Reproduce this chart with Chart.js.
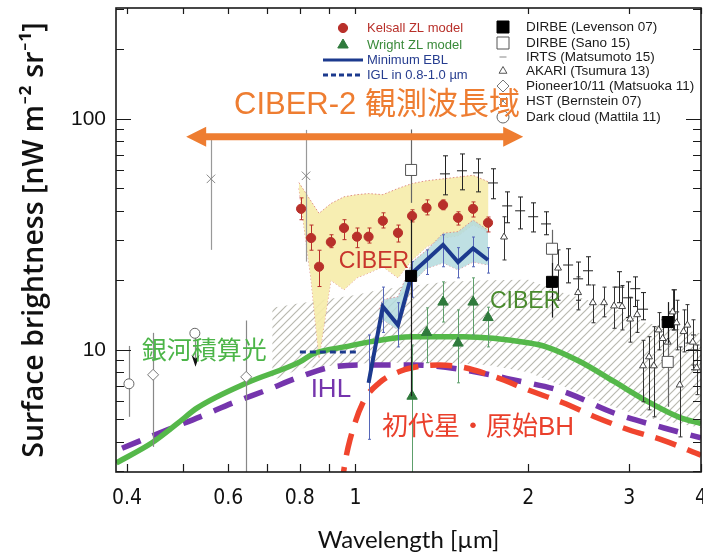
<!DOCTYPE html>
<html><head><meta charset="utf-8"><title>CIBER EBL</title>
<script src="https://cdn.jsdelivr.net/npm/chart.js@4.4.1/dist/chart.umd.min.js"></script>
<style>html,body{margin:0;padding:0;background:#fff;overflow:hidden}</style>
</head><body>
<canvas id="c" width="703" height="558"></canvas>
<script>
// ---------- axis ticks ----------
const xTickValues = [0.4,0.5,0.6,0.7,0.8,0.9,1,2,3,4];
const xTickLabels = [0.4,0.6,0.8,1,2,3,4];
const yTickValues = [3,4,5,6,7,8,9,10,20,30,40,50,60,70,80,90,100,200,300];
const yTickLabels = [10,100];

// ---------- model curves ----------
const galaxyX = [0.383,0.442,0.491,0.530,0.647,0.80,0.843,0.978,1.03,1.26,1.54,2.01,2.15,2.46,2.82,3.22,3.67,4.0];
const galaxyY = [3.24,3.96,4.83,5.61,7.2,8.87,9.6,10.4,10.7,11.4,11.4,10.7,10.3,8.9,7.3,6.0,5.1,4.8];
const ihlX = [0.392,0.469,0.536,0.612,0.701,0.80,0.914,1.073,1.259,1.539,1.888,2.31,2.82,3.45,4.0];
const ihlY = [3.75,4.5,5.13,5.9,6.7,7.64,8.44,8.6,8.6,8.2,7.41,6.58,5.33,4.59,4.16];
const popX = [0.945,0.958,0.978,1.03,1.10,1.20,1.30,1.40,1.54,1.76,2.0,2.3,2.63,3.0,3.43,4.0];
const popY = [2.5,3.2,4.07,5.9,7.2,8.1,8.5,8.6,8.4,7.6,6.7,5.9,5.1,4.5,4.07,3.5];
const iglX = [0.80,1.01];
const iglY = [9.8,9.8];

// ---------- CIBER minimum EBL ----------
const eblX  = [1.054,1.116,1.186,1.255,1.33,1.421,1.509,1.603,1.702];
const eblY  = [7.2,15.4,12.8,21.5,24.5,28.5,24.0,27.5,24.5];
const eblHi = [11.6,18.7,16.0,24.1,27.1,31.5,27.7,30.8,27.7];
const eblLo = [4.1,11.9,10.3,16.9,21.2,22.9,20.5,22.9,21.5];
const eblBandX  = [1.10,1.116,1.186,1.255,1.33,1.421,1.509,1.603,1.702];
const eblBandHi = [15,16.5,17,24,27,32,32.5,36.5,33];
const eblBandLo = [13.5,13.5,12.2,19.5,22.5,23.8,22.2,24.0,23.3];

// ---------- CIBER with Kelsall ZL ----------
const kelsallX  = [0.804,0.837,0.864,0.906,0.955,1.006,1.054,1.116,1.186,1.255,1.33,1.421,1.509,1.603,1.702];
const kelsallY  = [40.8,30.5,22.9,29.3,33.7,30.9,30.9,36.2,32.1,38.0,41.2,42.4,37.3,40.8,35.5];
const kelsallHi = [45.5,34.7,27.0,31.5,36.6,33.7,33.7,39.2,34.7,40.4,44.6,44.6,39.6,43.7,37.6];
const kelsallLo = [36.6,27.0,18.8,27.7,30.0,27.7,29.0,33.7,29.3,35.8,38.4,40.4,34.7,37.6,32.4];
const kelsallBandX  = [0.797,0.837,0.864,0.906,0.955,1.006,1.054,1.116,1.186,1.255,1.33,1.421,1.509,1.603,1.705];
const kelsallBandHi = [53,44,39,43,46,47,47.5,47,50,52.5,54,55,56,57,53.4];
const kelsallBandLo = [50,20,9.2,20,18.2,20.5,21.5,22.9,20.5,24.5,27.9,30.5,31.2,34.8,32.4];

// ---------- CIBER with Wright ZL ----------
const wrightX  = [1.255,1.33,1.421,1.509,1.603,1.702];
const wrightY  = [6.3,11.9,16.1,10.7,16.1,13.8];
const wrightHi = [10.5,15.2,19.7,14.9,20.5,15.3];
const wrightLo = [2.5,8.8,13.2,7.2,11.6,10.3];

// ---------- hatched region ----------
const hatchX  = [0.716,0.74,0.80,1.0,1.10,1.44,1.7,2.0,2.29,2.8,3.2,4.0];
const hatchHi = [15.2,15.4,15.9,17.3,18.2,19.7,20.0,20.1,17.7,15.3,13.1,11.8];
const hatchLo = [7.4,7.6,8.3,8.7,8.8,8.8,8.6,8.0,7.0,5.7,5.1,4.6];

// ---------- other measurements ----------
const levX  = [1.25,2.2,3.5];
const levY  = [20.9,19.7,13.2];
const levHi = [36.6,23.8,16.1];
const levLo = [6.3,13.8,10.7];
const sanoX  = [1.25,2.2,3.5];
const sanoY  = [60.1,27.4,8.87];
const sanoHi = [90,33.1,12.2];
const sanoLo = [43.3,20.7,5.67];
const irtsX  = [1.432,1.533,1.635,1.736,1.838,1.936,2.04,2.148,2.347,2.443,2.542,2.881,2.986,3.073,3.17,3.592,3.87];
const irtsY  = [57.8,59.6,58.4,52.8,42.0,40.0,37.7,35.1,23.3,20.3,22.0,18.7,16.8,18.4,15.0,14.6,10.0];
const irtsHi = [69.2,70.5,67.1,60.8,48.3,45.9,43.3,39.6,27.4,24.0,25.3,21.8,19.7,20.7,17.7,18.2,11.6];
const irtsLo = [46.9,49.3,48.3,45.1,35.5,33.4,32.4,31.5,19.5,16.4,19.1,16.0,13.8,15.4,13.5,12.2,8.2];
const akariX  = [1.815,2.254,2.443,2.592,2.711,2.822,2.914,3.01,3.096,3.17,3.247,3.31,3.376,3.43,3.50,3.57,3.626,3.673,3.729,3.787,3.87,3.93];
const akariY  = [30.8,22.6,17.7,16.0,16.0,15.5,15.4,13.6,14.2,8.53,9.33,8.53,12.2,11.2,10.8,14.6,13.1,7.05,12.0,12.8,10.8,8.36];
const akariHi = [37.7,27.1,20.7,19.1,18.7,18.7,19.0,16.9,16.4,11.0,11.4,12.6,14.5,13.5,12.8,18.2,16.4,10.3,14.9,15.7,13.5,10.5];
const akariLo = [24.5,16.4,14.9,13.1,13.9,12.4,12.2,10.8,11.9,5.96,5.5,5.13,10.0,9.0,8.6,12.2,10.0,4.2,9.8,10.7,8.6,6.4];
const pioneerX  = [0.444,0.645];
const pioneerY  = [7.8,7.64];
const pioneerHi = [11.85,13.4];
const pioneerLo = [3.8,2.5];
const hstX  = [0.56,0.82];
const hstY  = [55,56.7];
const hstHi = [81,89.6];
const hstLo = [27.1,24.1];
const darkX  = [0.403,0.525];
const darkY  = [7.13,11.8];
const darkHi = [10.4,11.8];
const darkLo = [5.13,8.8];
const darkUpperLimit = [false,true];

// ---------- annotations ----------
const ciber2Range = [0.507,1.96];
const ciber2Level = 83.6;

const P = (xs, ys) => xs.map((x, i) => ({x: x, y: ys[i]}));

const canvas = document.getElementById('c');
const ctx0 = canvas.getContext('2d');
function makeHatch() {
  const s = 8, c = document.createElement('canvas');
  c.width = s; c.height = s;
  const g = c.getContext('2d');
  g.strokeStyle = '#b9b9b0'; g.lineWidth = 1.2;
  g.beginPath();
  g.moveTo(0, s); g.lineTo(s, 0);
  g.moveTo(-2, 2); g.lineTo(2, -2);
  g.moveTo(s - 2, s + 2); g.lineTo(s + 2, s - 2);
  g.stroke();
  return ctx0.createPattern(c, 'repeat');
}
const hatch = makeHatch();

const lineBase = {showLine: true, pointRadius: 0, fill: false};
const markBase = {showLine: false, pointBorderWidth: 1};

const datasets = [
  Object.assign({label: 'DIRBE (Levenson 07)', data: P(levX, levY), order: 0, pointStyle: 'rect', pointRadius: 7.8,
    pointBackgroundColor: '#000', pointBorderColor: '#000', err: {lo: levLo, hi: levHi, color: '#1a1a1a', width: 1.2, cap: 0}}, markBase),
  Object.assign({label: 'DIRBE (Sano 15)', data: P(sanoX, sanoY), order: 0, pointStyle: 'rect', pointRadius: 7.8,
    pointBackgroundColor: '#fff', pointBorderColor: '#555', err: {lo: sanoLo, hi: sanoHi, color: '#666', width: 1.2, cap: 0}}, markBase),
  Object.assign({label: 'Kelsall ZL model', data: P(kelsallX, kelsallY), order: 0, pointStyle: 'circle', pointRadius: 4.6,
    pointBackgroundColor: '#b8302a', pointBorderColor: '#b8302a', err: {lo: kelsallLo, hi: kelsallHi, color: '#b8302a', width: 1, cap: 2}}, markBase),
  Object.assign({label: 'Wright ZL model', data: P(wrightX, wrightY), order: 0, pointStyle: 'triangle', pointRadius: 6,
    pointBackgroundColor: '#2f7a3c', pointBorderColor: '#2f7a3c', err: {lo: wrightLo, hi: wrightHi, color: '#5d9f6b', width: 1, cap: 1.5}}, markBase),
  Object.assign({label: 'AKARI (Tsumura 13)', data: P(akariX, akariY), order: 1, pointStyle: 'triangle', pointRadius: 4,
    pointBackgroundColor: '#fff', pointBorderColor: '#444', err: {lo: akariLo, hi: akariHi, color: '#333', width: 1, cap: 2}}, markBase),
  Object.assign({label: 'IRTS (Matsumoto 15)', data: P(irtsX, irtsY), order: 1, pointStyle: 'line', pointRadius: 5,
    pointBackgroundColor: '#222', pointBorderColor: '#222', err: {lo: irtsLo, hi: irtsHi, color: '#222', width: 1, cap: 2.5}}, markBase),
  Object.assign({label: 'Pioneer10/11 (Matsuoka 11)', data: P(pioneerX, pioneerY), order: 1, pointStyle: 'rectRot', pointRadius: 5.5,
    pointBackgroundColor: '#fff', pointBorderColor: '#777', err: {lo: pioneerLo, hi: pioneerHi, color: '#888', width: 1.2, cap: 0}}, markBase),
  Object.assign({label: 'HST (Bernstein 07)', data: P(hstX, hstY), order: 1, pointStyle: 'crossRot', pointRadius: 6,
    pointBackgroundColor: '#888', pointBorderColor: '#888', err: {lo: hstLo, hi: hstHi, color: '#999', width: 1.2, cap: 0}}, markBase),
  Object.assign({label: 'Dark cloud (Mattila 11)', data: P(darkX, darkY), order: 1, pointStyle: 'circle', pointRadius: 5,
    pointBackgroundColor: '#fff', pointBorderColor: '#666', err: {lo: darkLo, hi: darkHi, color: '#888', width: 1.2, cap: 0, arrow: darkUpperLimit}}, markBase),
  Object.assign({label: 'Minimum EBL', data: P(eblX, eblY), order: 2, borderColor: '#1c3a8e', borderWidth: 4,
    err: {lo: eblLo, hi: eblHi, color: '#5566b8', width: 1, cap: 1.5}}, lineBase),
  Object.assign({label: 'IGL in 0.8-1.0 µm', data: P(iglX, iglY), order: 2, borderColor: '#1c3a8e', borderWidth: 3, borderDash: [6, 4]}, lineBase),
  Object.assign({label: '銀河積算光', data: P(galaxyX, galaxyY), order: 3, borderColor: '#55b84a', borderWidth: 5.5, cubicInterpolationMode: 'monotone'}, lineBase),
  Object.assign({label: '初代星・原始BH', data: P(popX, popY), order: 4, borderColor: '#f0452e', borderWidth: 5.5, borderDash: [22, 12], cubicInterpolationMode: 'monotone'}, lineBase),
  Object.assign({label: 'IHL', data: P(ihlX, ihlY), order: 5, borderColor: '#7535ad', borderWidth: 5.5, borderDash: [20, 13], cubicInterpolationMode: 'monotone'}, lineBase),
  Object.assign({label: 'EBL band hi', data: P(eblBandX, eblBandHi), order: 6, borderColor: 'rgba(215,110,120,0.7)', borderWidth: 1, borderDash: [1.5, 2],
    fill: '+1', backgroundColor: 'rgba(180,218,222,0.85)'}, {showLine: true, pointRadius: 0}),
  Object.assign({label: 'EBL band lo', data: P(eblBandX, eblBandLo), order: 6, borderColor: 'rgba(215,110,120,0.7)', borderWidth: 1, borderDash: [1.5, 2]}, lineBase),
  Object.assign({label: 'Kelsall band hi', data: P(kelsallBandX, kelsallBandHi), order: 7, borderColor: 'rgba(215,110,110,0.75)', borderWidth: 1, borderDash: [1.5, 2],
    fill: '+1', backgroundColor: 'rgba(246,236,170,0.9)'}, {showLine: true, pointRadius: 0}),
  Object.assign({label: 'Kelsall band lo', data: P(kelsallBandX, kelsallBandLo), order: 7, borderColor: 'rgba(215,110,110,0.75)', borderWidth: 1, borderDash: [1.5, 2]}, lineBase),
  Object.assign({label: 'hatch hi', data: P(hatchX, hatchHi), order: 8, borderWidth: 0, borderColor: 'rgba(0,0,0,0)',
    fill: '+1', backgroundColor: hatch}, {showLine: true, pointRadius: 0}),
  Object.assign({label: 'hatch lo', data: P(hatchX, hatchLo), order: 8, borderWidth: 0, borderColor: 'rgba(0,0,0,0)'}, lineBase)
];

const errorBars = {
  id: 'errorBars',
  beforeDatasetDraw(chart, args) {
    const ds = chart.data.datasets[args.index];
    if (!ds.err) return;
    const e = ds.err, xs = chart.scales.x, ys = chart.scales.y, a = chart.chartArea, ctx = chart.ctx;
    ctx.save();
    ctx.beginPath(); ctx.rect(a.left, a.top, a.right - a.left, a.bottom - a.top); ctx.clip();
    ctx.strokeStyle = e.color; ctx.lineWidth = e.width;
    ds.data.forEach((p, i) => {
      const px = Math.round(xs.getPixelForValue(p.x)) + 0.5;
      const yl = ys.getPixelForValue(e.lo[i]), yh = ys.getPixelForValue(e.hi[i]);
      ctx.beginPath(); ctx.moveTo(px, yl); ctx.lineTo(px, yh);
      if (e.cap) { ctx.moveTo(px - e.cap, yl); ctx.lineTo(px + e.cap, yl); ctx.moveTo(px - e.cap, yh); ctx.lineTo(px + e.cap, yh); }
      ctx.stroke();
      if (e.arrow && e.arrow[i]) {
        ctx.fillStyle = '#111';
        ctx.beginPath(); ctx.moveTo(px, yl + 4); ctx.lineTo(px - 4, yl - 8); ctx.lineTo(px, yl - 4); ctx.lineTo(px + 4, yl - 8); ctx.closePath(); ctx.fill();
      }
    });
    ctx.restore();
  }
};

function marker(ctx, style, x, y, r, fill, stroke) {
  ctx.save(); ctx.fillStyle = fill; ctx.strokeStyle = stroke; ctx.lineWidth = 1;
  ctx.beginPath();
  if (style === 'circle') { ctx.arc(x, y, r, 0, Math.PI * 2); ctx.fill(); ctx.stroke(); }
  else if (style === 'rect') { ctx.rect(x - r, y - r, 2 * r, 2 * r); ctx.fill(); ctx.stroke(); }
  else if (style === 'tri') { ctx.moveTo(x, y - r); ctx.lineTo(x + r * 0.87, y + r * 0.5); ctx.lineTo(x - r * 0.87, y + r * 0.5); ctx.closePath(); ctx.fill(); ctx.stroke(); }
  else if (style === 'diamond') { ctx.moveTo(x, y - r); ctx.lineTo(x + r, y); ctx.lineTo(x, y + r); ctx.lineTo(x - r, y); ctx.closePath(); ctx.fill(); ctx.stroke(); }
  else if (style === 'dash') { ctx.moveTo(x - r, y); ctx.lineTo(x + r, y); ctx.stroke(); }
  else if (style === 'x') { ctx.moveTo(x - r, y - r); ctx.lineTo(x + r, y + r); ctx.moveTo(x - r, y + r); ctx.lineTo(x + r, y - r); ctx.stroke(); }
  ctx.restore();
}

const decorations = {
  id: 'decorations',
  afterDatasetsDraw(chart) {
    const {ctx, scales: {x, y}} = chart;
    ctx.save();
    const x1 = x.getPixelForValue(ciber2Range[0]), x2 = x.getPixelForValue(ciber2Range[1]), py = y.getPixelForValue(ciber2Level);
    const head = 20, hh = 10, sw = 3.5;
    ctx.fillStyle = '#ee7d31';
    ctx.beginPath();
    ctx.moveTo(x1, py); ctx.lineTo(x1 + head, py - hh); ctx.lineTo(x1 + head, py - sw); ctx.lineTo(x2 - head, py - sw);
    ctx.lineTo(x2 - head, py - hh); ctx.lineTo(x2, py); ctx.lineTo(x2 - head, py + hh); ctx.lineTo(x2 - head, py + sw);
    ctx.lineTo(x1 + head, py + sw); ctx.lineTo(x1 + head, py + hh); ctx.closePath(); ctx.fill();
    const label = (t, xv, yv, font, color) => {
      ctx.font = font; ctx.fillStyle = color; ctx.textAlign = 'center'; ctx.textBaseline = 'middle';
      ctx.fillText(t, x.getPixelForValue(xv), y.getPixelForValue(yv));
    };
    const J = '"Liberation Sans", "Noto Sans CJK JP", sans-serif';
    label('銀河積算光', 0.545, 9.8, '25px ' + J, '#4cb548');
    label('IHL', 0.906, 6.72, '26px ' + J, '#7535ad');
    label('初代星・原始BH', 1.635, 4.6, '26px ' + J, '#ea402c');
    label('CIBER', 1.077, 24.2, '23px ' + J, '#c8352c');
    label('CIBER', 1.975, 16.1, '23px ' + J, '#4a8a2e');
    ctx.restore();
  },
  afterDraw(chart) {
    const {ctx, chartArea: a, scales: {x, y}} = chart;
    ctx.save();
    ctx.strokeStyle = '#1a1a1a'; ctx.lineWidth = 1.6;
    ctx.strokeRect(a.left, a.top, a.right - a.left, a.bottom - a.top);
    ctx.lineWidth = 1.2; ctx.beginPath();
    xTickValues.forEach(v => {
      const px = Math.round(x.getPixelForValue(v)) + 0.5;
      ctx.moveTo(px, a.bottom); ctx.lineTo(px, a.bottom - 8);
      ctx.moveTo(px, a.top); ctx.lineTo(px, a.top + 6);
    });
    yTickValues.forEach(v => {
      const py = Math.round(y.getPixelForValue(v)) + 0.5;
      const L = yTickLabels.includes(v) ? 15 : 8;
      ctx.moveTo(a.left, py); ctx.lineTo(a.left + L, py);
      ctx.moveTo(a.right, py); ctx.lineTo(a.right - L, py);
    });
    ctx.stroke();

    const F = '13px "Liberation Sans", Arial, sans-serif';
    ctx.font = F; ctx.textAlign = 'left'; ctx.textBaseline = 'middle';
    marker(ctx, 'circle', 343, 28, 4.6, '#b8302a', '#b8302a');
    ctx.fillStyle = '#b8302a'; ctx.fillText('Kelsall ZL model', 367, 28);
    marker(ctx, 'tri', 343, 45, 6, '#2f7a3c', '#2f7a3c');
    ctx.fillStyle = '#3a8a3a'; ctx.fillText('Wright ZL model', 367, 45);
    ctx.strokeStyle = '#1c3a8e'; ctx.lineWidth = 3; ctx.beginPath(); ctx.moveTo(323, 60); ctx.lineTo(363, 60); ctx.stroke();
    ctx.fillStyle = '#263d8f'; ctx.fillText('Minimum EBL', 367, 60);
    ctx.setLineDash([5, 3]); ctx.beginPath(); ctx.moveTo(323, 75); ctx.lineTo(363, 75); ctx.stroke(); ctx.setLineDash([]);
    ctx.fillText('IGL in 0.8-1.0 µm', 367, 75);

    ctx.font = '13.5px "Liberation Sans", Arial, sans-serif'; ctx.fillStyle = '#1a1a1a';
    const rows = [
      ['rect', 'DIRBE (Levenson 07)', '#000', '#000', 6],
      ['rect', 'DIRBE (Sano 15)', '#fff', '#555', 6],
      ['dash', 'IRTS (Matsumoto 15)', '#888', '#888', 3.5],
      ['tri', 'AKARI (Tsumura 13)', '#fff', '#555', 4.5],
      ['diamond', 'Pioneer10/11 (Matsuoka 11)', '#fff', '#777', 6],
      ['x', 'HST (Bernstein 07)', '#888', '#888', 4],
      ['circle', 'Dark cloud (Mattila 11)', '#fff', '#666', 6]
    ];
    const ry = [27, 43, 57, 71, 86, 101, 117];
    rows.forEach((r, i) => {
      marker(ctx, r[0], 503, ry[i], r[4], r[2], r[3]);
      ctx.fillStyle = '#1a1a1a'; ctx.fillText(r[1], 526, ry[i]);
    });

    ctx.font = '31px "Liberation Sans", "Noto Sans CJK JP", sans-serif';
    ctx.fillStyle = '#ee7d31'; ctx.textAlign = 'center';
    ctx.fillText('CIBER-2 観測波長域', x.getPixelForValue(1.09), y.getPixelForValue(113.8));
    ctx.restore();
  }
};

const tickFont = '"Liberation Sans Narrow", "DejaVu Sans Condensed", "Liberation Sans", Arial, sans-serif';

new Chart(canvas, {
  type: 'line',
  data: {datasets: datasets},
  options: {
    responsive: false, animation: false, devicePixelRatio: 1, events: [],
    layout: {autoPadding: false, padding: {top: 8, right: 2, left: 0, bottom: 0}},
    plugins: {legend: {display: false}, tooltip: {enabled: false}},
    scales: {
      x: {
        type: 'logarithmic', min: 0.3826, max: 4.0,
        grid: {display: false, drawTicks: false}, border: {display: false},
        afterBuildTicks: s => { s.ticks = xTickValues.map(v => ({value: v})); },
        ticks: {autoSkip: false, maxRotation: 0, padding: 14, color: '#111',
          font: {family: tickFont, size: 21},
          callback: v => xTickLabels.includes(v) ? String(v) : ''},
        title: {display: true, text: 'Wavelength [µm]', color: '#111',
          font: {family: 'Lato, "Open Sans", sans-serif', size: 24}, padding: {top: 0, bottom: 3}},
        afterFit: s => { s.height = 86; s.paddingLeft = 0; s.paddingRight = 0; }
      },
      y: {
        type: 'logarithmic', min: 2.96, max: 302,
        grid: {display: false, drawTicks: false}, border: {display: false},
        afterBuildTicks: s => { s.ticks = yTickValues.map(v => ({value: v})); },
        ticks: {autoSkip: false, padding: 10, color: '#111',
          font: {family: '"Liberation Sans", Arial, sans-serif', size: 21},
          callback: v => yTickLabels.includes(v) ? String(v) : ''},
        title: {display: true, text: 'Surface brightness [nW m⁻² sr⁻¹]', color: '#111',
          font: {family: '"Open Sans", Lato, sans-serif', size: 28.5, weight: '600'}, padding: {top: 18, bottom: 0}},
        afterFit: s => { s.width = 116; s.paddingTop = 0; s.paddingBottom = 0; }
      }
    }
  },
  plugins: [errorBars, decorations]
});
</script>
</body></html>
